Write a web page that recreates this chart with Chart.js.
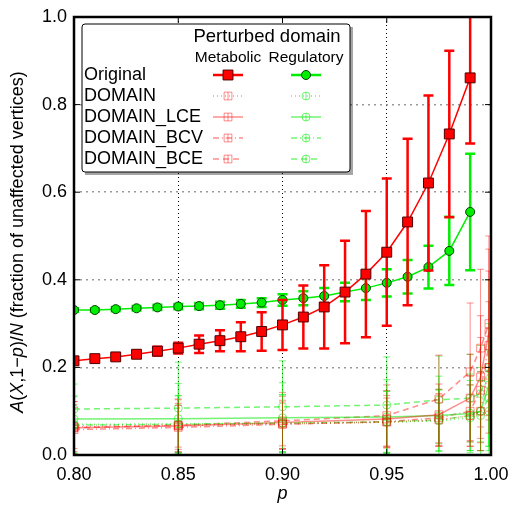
<!DOCTYPE html>
<html>
<head>
<meta charset="utf-8">
<script src="https://cdn.jsdelivr.net/npm/chart.js@4"></script>
<style>
html, body { margin: 0; padding: 0; background: #fff; }
</style>
</head>
<body>
<canvas id="chart" width="510" height="506"></canvas>
<script>
// main curves, p = 0.80 ... 0.99
const pOrig = [0.80, 0.81, 0.82, 0.83, 0.84, 0.85, 0.86, 0.87, 0.88, 0.89, 0.90, 0.91, 0.92, 0.93, 0.94, 0.95, 0.96, 0.97, 0.98, 0.99];
const metOrig = [0.215, 0.220, 0.224, 0.230, 0.237, 0.244, 0.253, 0.261, 0.270, 0.282, 0.297, 0.315, 0.338, 0.372, 0.413, 0.463, 0.532, 0.621, 0.733, 0.861];
const metOrigErr = [0.005, 0.005, 0.006, 0.008, 0.010, 0.012, 0.020, 0.024, 0.033, 0.044, 0.057, 0.072, 0.095, 0.117, 0.144, 0.168, 0.190, 0.200, 0.190, 0.150];
const regOrig = [0.331, 0.331, 0.333, 0.335, 0.337, 0.339, 0.340, 0.342, 0.345, 0.348, 0.354, 0.358, 0.363, 0.372, 0.381, 0.393, 0.407, 0.429, 0.466, 0.555];
const regOrigErr = [0.004, 0.004, 0.005, 0.005, 0.006, 0.006, 0.007, 0.008, 0.009, 0.010, 0.013, 0.016, 0.018, 0.021, 0.027, 0.031, 0.038, 0.049, 0.078, 0.133];

// randomised variants, sampled at fewer p
const pSub = [0.80, 0.85, 0.90, 0.95, 0.975, 0.99, 0.995, 0.999];
const metDomain = [0.065, 0.068, 0.071, 0.075, 0.080, 0.090, 0.100, 0.200];
const metDomainErr = [0.050, 0.050, 0.050, 0.055, 0.060, 0.070, 0.090, 0.150];
const metLce = [0.062, 0.066, 0.074, 0.082, 0.092, 0.130, 0.178, 0.280];
const metLceErr = [0.060, 0.060, 0.060, 0.065, 0.070, 0.100, 0.140, 0.190];
const metBcv = [0.058, 0.063, 0.070, 0.076, 0.085, 0.100, 0.148, 0.250];
const metBcvErr = [0.050, 0.050, 0.055, 0.060, 0.065, 0.080, 0.120, 0.170];
const metBce = [0.062, 0.068, 0.078, 0.090, 0.128, 0.190, 0.244, 0.300];
const metBceErr = [0.060, 0.060, 0.065, 0.070, 0.100, 0.157, 0.180, 0.200];
const regDomain = [0.070, 0.071, 0.073, 0.075, 0.078, 0.085, 0.090, 0.100];
const regDomainErr = [0.065, 0.065, 0.065, 0.070, 0.070, 0.075, 0.080, 0.090];
const regLce = [0.082, 0.083, 0.085, 0.087, 0.090, 0.095, 0.100, 0.160];
const regLceErr = [0.080, 0.080, 0.080, 0.085, 0.090, 0.090, 0.100, 0.140];
const regBcv = [0.068, 0.070, 0.072, 0.076, 0.080, 0.090, 0.100, 0.130];
const regBcvErr = [0.065, 0.065, 0.065, 0.070, 0.070, 0.080, 0.090, 0.110];
const regBce = [0.105, 0.107, 0.110, 0.114, 0.126, 0.130, 0.140, 0.200];
const regBceErr = [0.105, 0.105, 0.105, 0.110, 0.100, 0.100, 0.110, 0.200];

const rowLabels = ['Original', 'DOMAIN', 'DOMAIN_LCE', 'DOMAIN_BCV', 'DOMAIN_BCE'];
// y title pieces: [text, italic]
const yTitle = [['A', true], ['(', false], ['X', true], [',1\u2212', false], ['p', true], [')/', false], ['N', true], [' (fraction of unaffected vertices)', false]];
const FONT = '"Liberation Sans", Arial, sans-serif';

const RED = '#ff0000', GREEN = '#00ee00';
const LRED = 'rgba(255,0,0,0.45)', LGREEN = 'rgba(0,235,0,0.55)';
const dashes = [[], [1, 3], [], [6, 3, 1, 3], [6, 4]];

function pts(xs, ys) {
  return xs.map((x, i) => ({ x: x, y: ys[i] }));
}

function mainSet(label, ys, errs, color, style, edge) {
  return {
    label: label, data: pts(pOrig, ys), errors: errs,
    borderColor: color, borderWidth: 1.5, errWidth: 2.5, cap: 5,
    pointStyle: style, pointRadius: style === 'rect' ? 7 : 4.5,
    pointBackgroundColor: color, pointBorderColor: edge, pointBorderWidth: 1,
    showLine: true, order: 0
  };
}

function subSet(label, ys, errs, color, style, row) {
  return {
    label: label, data: pts(pSub, ys), errors: errs,
    borderColor: color, borderWidth: 1.5, borderDash: dashes[row], errWidth: 1, cap: 3.5,
    pointStyle: style, pointRadius: style === 'rect' ? 5.5 : 4,
    pointBackgroundColor: 'rgba(0,0,0,0)', pointBorderColor: color, pointBorderWidth: 1,
    showLine: true, order: 1, row: row
  };
}

const datasets = [
  mainSet('Metabolic Original', metOrig, metOrigErr, RED, 'rect', '#500000'),
  mainSet('Regulatory Original', regOrig, regOrigErr, GREEN, 'circle', '#004000'),
  subSet('Metabolic DOMAIN', metDomain, metDomainErr, LRED, 'rect', 1),
  subSet('Regulatory DOMAIN', regDomain, regDomainErr, LGREEN, 'circle', 1),
  subSet('Metabolic DOMAIN_LCE', metLce, metLceErr, LRED, 'rect', 2),
  subSet('Regulatory DOMAIN_LCE', regLce, regLceErr, LGREEN, 'circle', 2),
  subSet('Metabolic DOMAIN_BCV', metBcv, metBcvErr, LRED, 'rect', 3),
  subSet('Regulatory DOMAIN_BCV', regBcv, regBcvErr, LGREEN, 'circle', 3),
  subSet('Metabolic DOMAIN_BCE', metBce, metBceErr, LRED, 'rect', 4),
  subSet('Regulatory DOMAIN_BCE', regBce, regBceErr, LGREEN, 'circle', 4)
];

// vertical error bars, drawn under each dataset's own line and markers
const errorBars = {
  id: 'errorBars',
  beforeDatasetDraw(chart, args) {
    const ds = chart.data.datasets[args.index];
    if (!ds.errors) return;
    const { ctx, chartArea, scales: { x, y } } = chart;
    ctx.save();
    ctx.beginPath();
    ctx.rect(chartArea.left, chartArea.top, chartArea.width, chartArea.height);
    ctx.clip();
    ctx.strokeStyle = ds.borderColor;
    ctx.lineWidth = ds.errWidth;
    ctx.setLineDash([]);
    ds.data.forEach((pt, i) => {
      const px = x.getPixelForValue(pt.x);
      const top = y.getPixelForValue(pt.y + ds.errors[i]);
      const bot = y.getPixelForValue(pt.y - ds.errors[i]);
      ctx.beginPath();
      ctx.moveTo(px, top); ctx.lineTo(px, bot);
      ctx.moveTo(px - ds.cap, top); ctx.lineTo(px + ds.cap, top);
      ctx.moveTo(px - ds.cap, bot); ctx.lineTo(px + ds.cap, bot);
      ctx.stroke();
    });
    ctx.restore();
  }
};

// black frame round the plot, with ticks pointing inwards
const frame = {
  id: 'frame',
  afterDatasetsDraw(chart) {
    const { ctx, chartArea: a, scales: { x, y } } = chart;
    ctx.save();
    ctx.strokeStyle = '#000';
    ctx.lineWidth = 1;
    ctx.setLineDash([]);
    x.ticks.forEach(t => {
      const px = x.getPixelForValue(t.value);
      ctx.beginPath();
      ctx.moveTo(px, a.bottom); ctx.lineTo(px, a.bottom - 6);
      ctx.moveTo(px, a.top); ctx.lineTo(px, a.top + 6);
      ctx.stroke();
    });
    y.ticks.forEach(t => {
      const py = y.getPixelForValue(t.value);
      ctx.beginPath();
      ctx.moveTo(a.left, py); ctx.lineTo(a.left + 6, py);
      ctx.moveTo(a.right, py); ctx.lineTo(a.right - 6, py);
      ctx.stroke();
    });
    ctx.lineWidth = 2.5;
    ctx.strokeRect(a.left, a.top, a.width, a.height);
    ctx.restore();
  }
};

// rotated y title with italic symbols
const yTitlePlugin = {
  id: 'yTitle',
  afterDraw(chart) {
    const ctx = chart.ctx;
    const a = chart.chartArea;
    ctx.save();
    ctx.translate(18, (a.top + a.bottom) / 2 + 6);
    ctx.rotate(-Math.PI / 2);
    ctx.fillStyle = '#000';
    ctx.textBaseline = 'middle';
    ctx.textAlign = 'left';
    const fontOf = it => (it ? 'italic ' : '') + '18px ' + FONT;
    let total = 0;
    yTitle.forEach(([t, it]) => { ctx.font = fontOf(it); total += ctx.measureText(t).width; });
    let cx = -total / 2;
    yTitle.forEach(([t, it]) => {
      ctx.font = fontOf(it);
      ctx.fillText(t, cx, 0);
      cx += ctx.measureText(t).width;
    });
    ctx.restore();
  }
};

function drawMarker(ctx, ds, cx, cy) {
  ctx.save();
  ctx.setLineDash([]);
  ctx.lineWidth = ds.pointBorderWidth;
  ctx.fillStyle = ds.pointBackgroundColor;
  ctx.strokeStyle = ds.pointBorderColor;
  ctx.beginPath();
  if (ds.pointStyle === 'rect') {
    const s = ds.pointRadius * Math.SQRT1_2;
    ctx.rect(cx - s, cy - s, 2 * s, 2 * s);
  } else {
    ctx.arc(cx, cy, ds.pointRadius, 0, Math.PI * 2);
  }
  ctx.fill();
  ctx.stroke();
  ctx.restore();
}

// two-column legend box inside the plot
const legendBox = {
  id: 'legendBox',
  afterDraw(chart) {
    const ctx = chart.ctx;
    const bx = 82, by = 24, bw = 268, bh = 148;
    ctx.save();
    ctx.fillStyle = 'rgba(0,0,0,0.35)';
    ctx.fillRect(bx + 3, by + 3, bw, bh);
    ctx.fillStyle = '#fff';
    ctx.strokeStyle = '#000';
    ctx.lineWidth = 1;
    ctx.beginPath();
    ctx.roundRect(bx, by, bw, bh, 3);
    ctx.fill();
    ctx.stroke();

    ctx.fillStyle = '#000';
    ctx.textBaseline = 'middle';
    ctx.textAlign = 'center';
    ctx.font = '18.5px ' + FONT;
    ctx.fillText('Perturbed domain', 267, 37);
    ctx.font = '15.5px ' + FONT;
    ctx.fillText('Metabolic', 228, 58);
    ctx.fillText('Regulatory', 306, 58);

    ctx.textAlign = 'left';
    ctx.font = '18px ' + FONT;
    const colX = [228, 306];
    rowLabels.forEach((lab, r) => {
      const ry = 75 + r * 21;
      ctx.fillStyle = '#000';
      ctx.fillText(lab, 84, ry);
      for (let c = 0; c < 2; c++) {
        const ds = chart.data.datasets[r * 2 + c];
        const cx = colX[c];
        ctx.save();
        ctx.strokeStyle = ds.borderColor;
        ctx.lineWidth = r === 0 ? 2.5 : 1.5;
        ctx.setLineDash(ds.borderDash || []);
        ctx.beginPath();
        ctx.moveTo(cx - 15, ry); ctx.lineTo(cx + 15, ry);
        ctx.stroke();
        ctx.setLineDash([]);
        ctx.lineWidth = ds.errWidth;
        ctx.beginPath();
        ctx.moveTo(cx, ry - 4); ctx.lineTo(cx, ry + 4);
        ctx.stroke();
        ctx.restore();
        drawMarker(ctx, ds, cx, ry);
      }
    });
    ctx.restore();
  }
};

new Chart(document.getElementById('chart'), {
  type: 'scatter',
  data: { datasets: datasets },
  options: {
    responsive: false,
    animation: false,
    layout: { padding: { left: 0, right: 19, top: 17, bottom: 0 } },
    plugins: { legend: { display: false }, tooltip: { enabled: false } },
    scales: {
      x: {
        type: 'linear', min: 0.8, max: 1.0,
        afterFit(scale) { scale.height = 51; scale.paddingRight = 0; scale.paddingLeft = 0; },
        ticks: {
          stepSize: 0.05, padding: 9, color: '#000',
          font: { size: 18, family: FONT },
          callback: v => v.toFixed(2)
        },
        grid: {
          drawTicks: false,
          color: c => (c.tick && (c.tick.value <= 0.8001 || c.tick.value >= 0.9999)) ? 'rgba(0,0,0,0)' : '#000',
          lineWidth: 1
        },
        border: { display: false, dash: [1, 3] },
        title: { display: true, text: 'p', color: '#000', font: { size: 18, family: FONT, style: 'italic' }, padding: { top: 0, bottom: 1 } }
      },
      y: {
        type: 'linear', min: 0, max: 1,
        afterFit(scale) { scale.width = 74; scale.paddingTop = 0; scale.paddingBottom = 0; },
        ticks: {
          stepSize: 0.2, padding: 7, color: '#000',
          font: { size: 18, family: FONT },
          callback: v => v.toFixed(1)
        },
        grid: {
          drawTicks: false,
          color: c => (c.tick && (c.tick.value <= 0.0001 || c.tick.value >= 0.9999)) ? 'rgba(0,0,0,0)' : '#999',
          lineWidth: 1.5
        },
        border: { display: false, dash: [2, 4] },
        title: { display: false }
      }
    }
  },
  plugins: [errorBars, frame, legendBox, yTitlePlugin]
});
</script>
</body>
</html>
